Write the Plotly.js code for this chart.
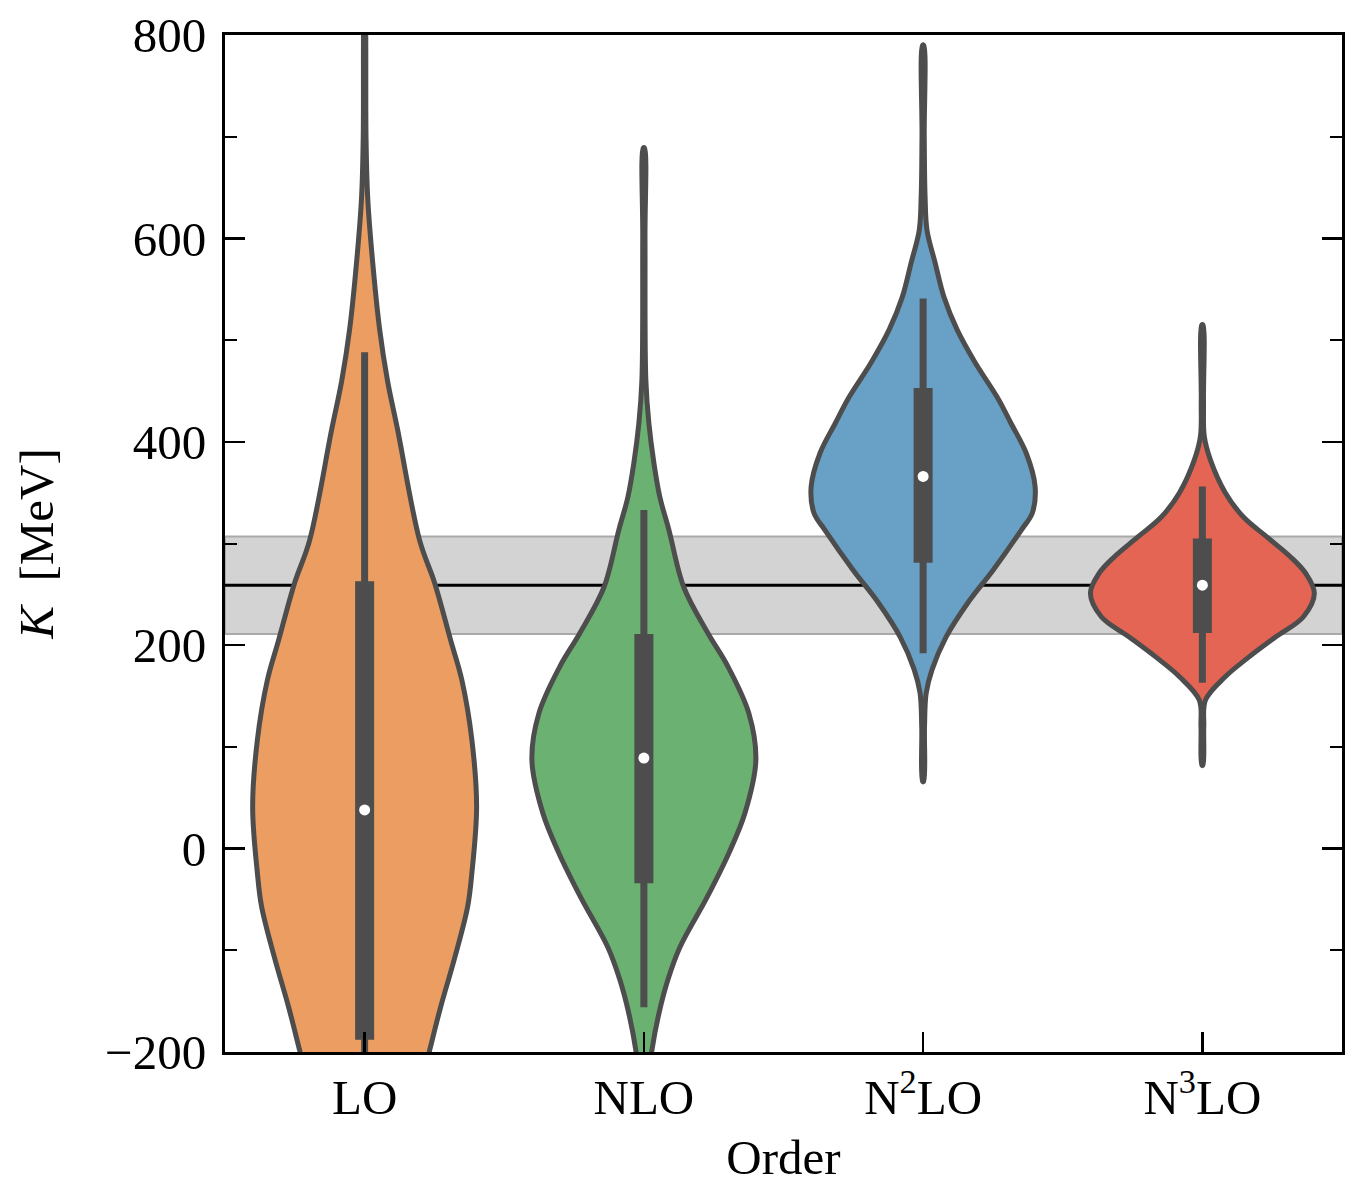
<!DOCTYPE html>
<html>
<head>
<meta charset="utf-8">
<script src="https://cdn.plot.ly/plotly-3.0.1.min.js"></script>
<style>body{margin:0;background:#fff}</style>
</head>
<body>
<div id="chart" style="width:1360px;height:1200px"></div>
<script>
// categories and colours
var orders = ['LO', 'NLO', 'N<sup>2</sup>LO', 'N<sup>3</sup>LO'];
var violinColors = ['#ec9d61', '#6ab172', '#68a0c6', '#e46554'];

// violin outlines: K levels (MeV) and half widths (category units)
var loK    = [830, 800, 700, 640, 576, 510, 460, 412, 303, 261, 205, 166, 107, 41, -24, -57, -107, -156, -198, -225];
var loHalf = [0.002, 0.004, 0.005, 0.011, 0.029, 0.054, 0.082, 0.118, 0.197, 0.251, 0.308, 0.348, 0.384, 0.401, 0.384, 0.369, 0.323, 0.272, 0.233, 0.208];

var nloK    = [689, 600, 461, 418, 379, 346, 313, 257, 212, 179, 133, 87, 35, -4, -48, -97, -129, -162, -198, -225];
var nloHalf = [0.002, 0.004, 0.007, 0.018, 0.036, 0.057, 0.090, 0.143, 0.229, 0.301, 0.376, 0.401, 0.362, 0.305, 0.226, 0.129, 0.086, 0.054, 0.029, 0.018];

var n2loK    = [790, 700, 641, 608, 576, 542, 510, 478, 444, 418, 389, 356, 330, 313, 274, 242, 208, 176, 153, 120, 66];
var n2loHalf = [0.002, 0.004, 0.007, 0.014, 0.043, 0.075, 0.122, 0.186, 0.265, 0.315, 0.369, 0.401, 0.391, 0.351, 0.251, 0.161, 0.082, 0.032, 0.011, 0.005, 0.002];

var n3loK    = [515, 440, 405, 382, 350, 326, 306, 287, 271, 251, 228, 208, 188, 169, 146, 120, 82];
var n3loHalf = [0.002, 0.004, 0.007, 0.029, 0.082, 0.147, 0.233, 0.315, 0.369, 0.401, 0.362, 0.262, 0.165, 0.082, 0.011, 0.005, 0.002];

// inner box plots
var q1      = [-188, -34, 281, 212];
var q3      = [263, 211, 453, 305];
var whiskLo = [-230, -156, 192, 163];
var whiskHi = [488, 333, 541, 356];
var medians = [38, 89, 366, 259];

// empirical band
var bandLow = 211, bandHigh = 307, bandMid = 259;

var outline = '#4d4d4d';
var profiles = [[loK, loHalf], [nloK, nloHalf], [n2loK, n2loHalf], [n3loK, n3loHalf]];
var traces = [];

profiles.forEach(function (p, i) {
  var ks = p[0], hw = p[1];
  var xs = [], ys = [];
  for (var j = 0; j < ks.length; j++) { xs.push(i - hw[j]); ys.push(ks[j]); }
  for (var j = ks.length - 1; j >= 0; j--) { xs.push(i + hw[j]); ys.push(ks[j]); }
  xs.push(xs[0]); ys.push(ys[0]);
  traces.push({
    x: xs, y: ys, type: 'scatter', mode: 'lines',
    fill: 'toself', fillcolor: violinColors[i],
    line: {color: outline, width: 5, shape: 'spline', smoothing: 1},
    hoverinfo: 'skip', showlegend: false
  });
});

orders.forEach(function (o, i) {
  traces.push({
    x: [i, i], y: [whiskLo[i], whiskHi[i]], type: 'scatter', mode: 'lines',
    line: {color: outline, width: 7}, showlegend: false, hoverinfo: 'skip'
  });
  traces.push({
    x: [i, i], y: [q1[i], q3[i]], type: 'scatter', mode: 'lines',
    line: {color: outline, width: 19}, showlegend: false, hoverinfo: 'skip'
  });
});

traces.push({
  x: [0, 1, 2, 3], y: medians, type: 'scatter', mode: 'markers',
  marker: {color: 'white', size: 11}, showlegend: false, hoverinfo: 'skip'
});

var font = {family: 'Liberation Serif, Times New Roman, serif', color: 'black', size: 49};

var layout = {
  width: 1360, height: 1200,
  margin: {l: 225, r: 18, t: 35, b: 148},
  paper_bgcolor: 'white', plot_bgcolor: 'white',
  font: font,
  showlegend: false,
  xaxis: {
    range: [-0.5, 3.5], tickvals: [0, 1, 2, 3], ticktext: orders,
    ticks: 'inside', ticklen: 20, tickwidth: 2.5, tickcolor: 'black',
    showline: true, linewidth: 3, linecolor: 'black', mirror: true,
    showgrid: false, zeroline: false,
    title: {text: 'Order', font: font, standoff: 16},
    tickfont: font
  },
  yaxis: {
    range: [-200, 800], dtick: 200, tick0: 0,
    ticks: 'inside', ticklen: 20, tickwidth: 2.5, tickcolor: 'black',
    minor: {dtick: 100, ticks: 'inside', ticklen: 12, tickwidth: 2, tickcolor: 'black', showgrid: false},
    showline: true, linewidth: 3, linecolor: 'black', mirror: 'allticks',
    showgrid: false, zeroline: false, ticklabelstandoff: 6,
    title: {text: '<i>K</i>&nbsp; [MeV]', font: font, standoff: 36},
    tickfont: font
  },
  shapes: [
    {type: 'rect', xref: 'paper', yref: 'y', x0: 0, x1: 1, y0: bandLow, y1: bandHigh,
     fillcolor: '#d3d3d3', line: {color: '#a9a9a9', width: 2}, layer: 'below'},
    {type: 'line', xref: 'paper', yref: 'y', x0: 0, x1: 1, y0: bandMid, y1: bandMid,
     line: {color: 'black', width: 3}, layer: 'below'}
  ]
};

Plotly.newPlot('chart', traces, layout, {displayModeBar: false, staticPlot: true});
</script>
</body>
</html>
